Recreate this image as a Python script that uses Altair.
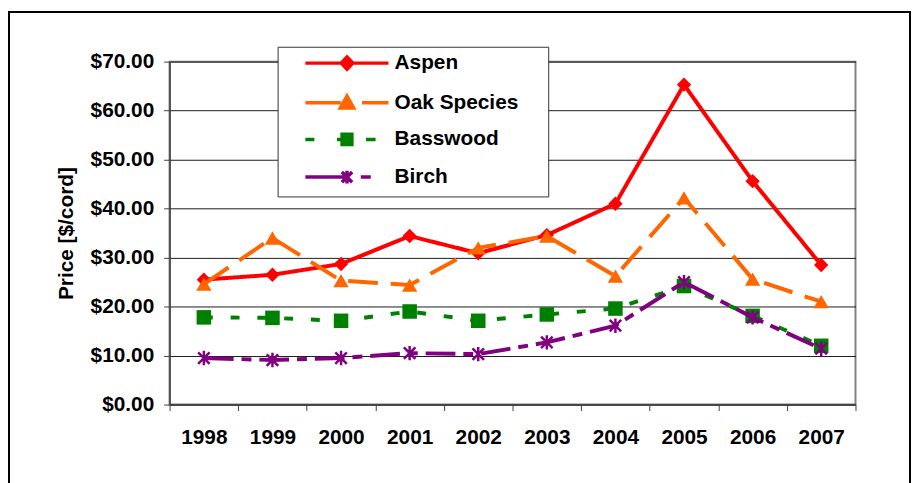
import altair as alt
import pandas as pd

years = ["1998", "1999", "2000", "2001", "2002", "2003", "2004", "2005", "2006", "2007"]
series = ["Aspen", "Oak Species", "Basswood", "Birch"]
aspen = [25.5, 26.5, 28.7, 34.4, 30.9, 34.6, 41.0, 65.3, 45.6, 28.5]
oak = [24.6, 34.0, 25.3, 24.4, 32.0, 34.4, 26.2, 42.2, 25.6, 21.0]
basswood = [17.8, 17.7, 17.1, 19.0, 17.1, 18.4, 19.6, 24.2, 18.1, 12.0]
birch = [9.5, 9.1, 9.5, 10.5, 10.3, 12.7, 16.1, 25.0, 17.8, 11.4]
colors = ["#FF0000", "#FF6600", "#008000", "#800080"]
y_ticks = [0, 10, 20, 30, 40, 50, 60, 70]

values = {"Aspen": aspen, "Oak Species": oak, "Basswood": basswood, "Birch": birch}
rows = []
for s in series:
    for yr, v in zip(years, values[s]):
        rows.append({"Year": yr, "Series": s, "Price": v})
df = pd.DataFrame(rows)

FONT = "Liberation Sans"

x_enc = alt.X(
    "Year:O",
    scale=alt.Scale(type="band", domain=years, paddingInner=0, paddingOuter=0),
    axis=alt.Axis(title=None, labelAngle=0, tickBand="extent", grid=False,
                  tickSize=6, labelPadding=16, domainColor="#404040",
                  tickColor="#404040", domainWidth=1.5),
)
y_enc = alt.Y(
    "Price:Q",
    scale=alt.Scale(domain=[0, 70], nice=False, zero=True),
    axis=alt.Axis(title="Price [$/cord]", values=y_ticks, format="$.2f",
                  grid=True, gridColor="#1a1a1a", gridWidth=1, tickSize=6,
                  labelPadding=10, titlePadding=14, domainColor="#404040",
                  tickColor="#404040", domainWidth=1.5),
)

dashes = {"Aspen": [1, 0], "Oak Species": [30, 13], "Basswood": [9, 18], "Birch": [30, 8, 10, 8]}
star = "M0,-1L0,1M-0.8,-0.8L0.8,0.8M-0.8,0.8L0.8,-0.8"
shapes = {"Aspen": "diamond", "Oak Species": "triangle-up", "Basswood": "square", "Birch": star}
sizes = {"Aspen": 210, "Oak Species": 240, "Basswood": 215, "Birch": 210}

layers = []
frame = alt.Chart(pd.DataFrame({"k": [0]})).mark_rect(
    fill="transparent", stroke="black", strokeWidth=2
).encode(x=alt.value(-162), x2=alt.value(747), y=alt.value(-50), y2=alt.value(460))
layers.append(frame)

for s, c in zip(series, colors):
    sub = alt.Chart(df).transform_filter(alt.datum.Series == s)
    line = sub.mark_line(color=c, strokeWidth=4, strokeDash=dashes[s]).encode(x=x_enc, y=y_enc)
    if s == "Birch":
        pt = sub.mark_point(shape=shapes[s], filled=False, size=sizes[s], color=c,
                            strokeWidth=2.5, opacity=1)
    else:
        pt = sub.mark_point(shape=shapes[s], filled=True, size=sizes[s], color=c, opacity=1)
    layers.append(line)
    layers.append(pt.encode(x=x_enc, y=y_enc))

# legend-only layer: symbols drawn as line + marker
# (a trailing move-to widens the legend box to the reference's right margin)
leg_paths = [
    "M-1,0H11.9M4.56,0L5.46,-0.95L6.36,0L5.46,0.95Z",
    "M-1,0H4.5M7.8,0H11.9M5.46,-1.05L6.5,0.8L4.42,0.8ZM34.6,0",
    "M-1,0H0.4M3.9,0H4.7M8.4,0H9.9M4.7,-0.8H6.22V0.8H4.7Z",
    "M-1,0H5.46M7.6,0H9.15M5.46,-1V1M4.66,-0.8L6.26,0.8M4.66,0.8L6.26,-0.8",
]
leg = alt.Legend(title=None, orient="none", legendX=109, legendY=-15,
                 symbolSize=169, symbolStrokeWidth=3.5, symbolOffset=18,
                 labelOffset=73, padding=6, rowPadding=12, strokeColor="#333333",
                 fillColor="white", labelFont=FONT, labelFontSize=21,
                 labelFontWeight="bold", labelColor="black", symbolOpacity=1,
                 labelLimit=400)
legend_layer = alt.Chart(df).mark_point(filled=True, opacity=0).encode(
    x=x_enc, y=y_enc,
    color=alt.Color("Series:N", scale=alt.Scale(domain=series, range=colors), legend=leg),
    stroke=alt.Stroke("Series:N", scale=alt.Scale(domain=series, range=colors), legend=leg),
    shape=alt.Shape("Series:N", scale=alt.Scale(domain=series, range=leg_paths), legend=leg),
)
layers.append(legend_layer)

chart = alt.layer(*layers).properties(
    width=692, height=346,
    autosize=alt.AutoSizeParams(type="none"),
    padding={"left": 163, "top": 52, "right": 56, "bottom": 77},
    background="white",
).configure_view(
    stroke="#808080", strokeWidth=2
).configure_axis(
    labelFont=FONT, labelFontSize=21, labelFontWeight="bold", labelColor="black",
    titleFont=FONT, titleFontSize=21, titleFontWeight="bold", titleColor="black",
)

chart.save("out.html", embed_options={"renderer": "svg", "actions": False})
